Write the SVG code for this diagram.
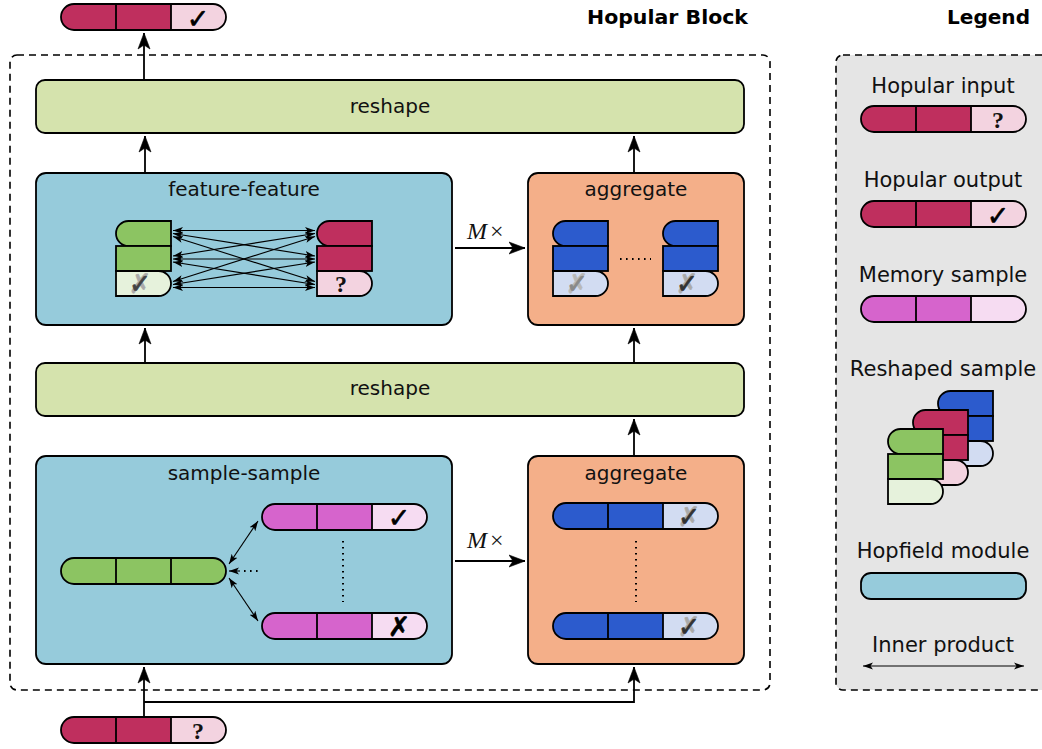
<svg xmlns="http://www.w3.org/2000/svg" width="1042" height="749" viewBox="0 0 1042 749">
<style>
.ol{fill:none;stroke:#000;stroke-width:1.8}
.ln{fill:none;stroke:#000;stroke-width:1.8}
.c{stroke:#000;stroke-width:1.8}
.red{fill:#bf2f5e}.pink{fill:#f3d3e0}
.mag{fill:#d664cc}.lmag{fill:#f6dcf2}
.grn{fill:#8cc462}.lgrn{fill:#e6f2dc}
.blu{fill:#2c5bcd}.lblu{fill:#d2dcf2}
.hop{fill:#96cbdb;stroke:#000;stroke-width:1.8}
.agg{fill:#f4af89;stroke:#000;stroke-width:1.8}
.rsh{fill:#d5e3ad;stroke:#000;stroke-width:1.8}
.dash{stroke:#000;stroke-width:1.6;stroke-dasharray:7 5}
.t{font-family:"DejaVu Sans",sans-serif;font-size:20px;fill:#111;text-anchor:middle}
.lt{font-family:"DejaVu Sans",sans-serif;font-size:21px;fill:#111;text-anchor:middle}
.h{font-family:"DejaVu Sans",sans-serif;font-size:19px;font-weight:bold;fill:#000}
.q{font-family:"Liberation Serif",serif;font-size:24px;font-weight:bold;fill:#111;text-anchor:middle}
.ck{font-family:"DejaVu Sans",sans-serif;font-size:27px;fill:#000;text-anchor:middle;stroke:#000;stroke-width:0.6}
.m{font-family:"Liberation Serif",serif;font-size:24px;fill:#111}
.arr{fill:none;stroke:#000;stroke-width:1.8}
.sa{fill:none;stroke:#000;stroke-width:1.1}
.dot{fill:none;stroke:#000;stroke-width:2;stroke-dasharray:1.6 4.4}
.hd{fill:#000;stroke:#000;stroke-width:0.6;stroke-linejoin:miter}
</style>
<defs>
<marker id="ah" viewBox="0 -7 17 14" refX="16.5" refY="0" markerWidth="17" markerHeight="14" markerUnits="userSpaceOnUse" orient="auto-start-reverse">
<path class="hd" d="M0.5,-6 L16.5,0 L0.5,6 L4.5,0 Z"/>
</marker>
<marker id="sh" viewBox="0 -4 10 8" refX="10" refY="0" markerWidth="10" markerHeight="8" markerUnits="userSpaceOnUse" orient="auto-start-reverse">
<path d="M0,-3.5 L10,0 L0,3.5 L2.5,0 Z" fill="#000"/>
</marker>
</defs>

<!-- titles -->
<text class="h" x="587" y="24" textLength="161" lengthAdjust="spacingAndGlyphs">Hopular Block</text>
<text class="h" x="947" y="24" textLength="83" lengthAdjust="spacingAndGlyphs">Legend</text>

<!-- outer frames -->
<rect id="hopular-block" class="dash" x="10" y="55" width="760" height="635" rx="7" fill="none"/>
<rect id="legend-frame" class="dash" x="836" y="55" width="240" height="635" rx="7" fill="#e5e5e5"/>

<!-- output bar -->
<g id="output" transform="translate(61,4)">
<path class="red" d="M13,0H55V26H13A13,13 0 0 1 13,0Z"/>
<rect class="red" x="55" y="0" width="55" height="26"/>
<path class="pink" d="M110,0H152A13,13 0 0 1 152,26H110Z"/>
<rect class="ol" width="165" height="26" rx="13"/>
<path class="ln" d="M55,0V26M110,0V26"/>
<text class="ck" x="137" y="24">✓</text>
</g>

<!-- top reshape -->
<g id="reshape-top">
<rect class="rsh" x="36" y="80" width="708" height="53" rx="9"/>
<text class="t" x="390" y="113">reshape</text>
</g>

<!-- feature-feature -->
<g id="feature-feature">
<rect class="hop" x="36" y="173" width="416" height="152" rx="10"/>
<text class="t" x="244" y="196">feature-feature</text>
<g transform="translate(116,221)">
<path class="grn c" d="M12.5,0H55V25H12.5A12.5,12.5 0 0 1 12.5,0Z"/>
<rect class="grn c" x="0" y="25" width="55" height="25"/>
<path class="lgrn c" d="M0,50H42.5A12.5,12.5 0 0 1 42.5,75H0Z"/>
<text class="ck" x="24" y="72" style="fill:#aaa;stroke:#aaa">✗</text>
<text class="ck" x="24" y="72" style="fill:#444;stroke:#444">✓</text>
</g>
<g transform="translate(317,221)">
<path class="red c" d="M12.5,0H55V25H12.5A12.5,12.5 0 0 1 12.5,0Z"/>
<rect class="red c" x="0" y="25" width="55" height="25"/>
<path class="pink c" d="M0,50H42.5A12.5,12.5 0 0 1 42.5,75H0Z"/>
<text class="q" x="24" y="71">?</text>
</g>
<g>
<path class="sa" d="M173,230.5L315,230.5" marker-start="url(#sh)" marker-end="url(#sh)"/>
<path class="sa" d="M173,233.5L315,256" marker-start="url(#sh)" marker-end="url(#sh)"/>
<path class="sa" d="M173,236.5L315,281.5" marker-start="url(#sh)" marker-end="url(#sh)"/>
<path class="sa" d="M173,256L315,233.5" marker-start="url(#sh)" marker-end="url(#sh)"/>
<path class="sa" d="M173,259L315,259" marker-start="url(#sh)" marker-end="url(#sh)"/>
<path class="sa" d="M173,262L315,284.5" marker-start="url(#sh)" marker-end="url(#sh)"/>
<path class="sa" d="M173,281.5L315,236.5" marker-start="url(#sh)" marker-end="url(#sh)"/>
<path class="sa" d="M173,284.5L315,262" marker-start="url(#sh)" marker-end="url(#sh)"/>
<path class="sa" d="M173,287.5L315,287.5" marker-start="url(#sh)" marker-end="url(#sh)"/>
</g>
</g>

<!-- aggregate top -->
<g id="aggregate-top">
<rect class="agg" x="528" y="173" width="216" height="152" rx="10"/>
<text class="t" x="636" y="196">aggregate</text>
<g transform="translate(553,221)">
<path class="blu c" d="M12.5,0H55V25H12.5A12.5,12.5 0 0 1 12.5,0Z"/>
<rect class="blu c" x="0" y="25" width="55" height="25"/>
<path class="lblu c" d="M0,50H42.5A12.5,12.5 0 0 1 42.5,75H0Z"/>
<text class="ck" x="24" y="72" style="fill:#b8b8b8;stroke:#b8b8b8">✗</text>
<text class="ck" x="24" y="72" style="fill:#8a8a8a;stroke:#8a8a8a">✓</text>
</g>
<g transform="translate(663,221)">
<path class="blu c" d="M12.5,0H55V25H12.5A12.5,12.5 0 0 1 12.5,0Z"/>
<rect class="blu c" x="0" y="25" width="55" height="25"/>
<path class="lblu c" d="M0,50H42.5A12.5,12.5 0 0 1 42.5,75H0Z"/>
<text class="ck" x="24" y="72" style="fill:#aaa;stroke:#aaa">✗</text>
<text class="ck" x="24" y="72" style="fill:#333;stroke:#333">✓</text>
</g>
<path class="dot" d="M620,259H651"/>
</g>

<!-- middle reshape -->
<g id="reshape-mid">
<rect class="rsh" x="36" y="363" width="708" height="53" rx="9"/>
<text class="t" x="390" y="395">reshape</text>
</g>

<!-- sample-sample -->
<g id="sample-sample">
<rect class="hop" x="36" y="456" width="416" height="208" rx="10"/>
<text class="t" x="244" y="480">sample-sample</text>
<g transform="translate(61,558)">
<path class="grn" d="M13,0H55V26H13A13,13 0 0 1 13,0Z"/>
<rect class="grn" x="55" y="0" width="55" height="26"/>
<path class="grn" d="M110,0H152A13,13 0 0 1 152,26H110Z"/>
<rect class="ol" width="165" height="26" rx="13"/>
<path class="ln" d="M55,0V26M110,0V26"/>
</g>
<g transform="translate(262,504)">
<path class="mag" d="M13,0H55V26H13A13,13 0 0 1 13,0Z"/>
<rect class="mag" x="55" y="0" width="55" height="26"/>
<path class="lmag" d="M110,0H152A13,13 0 0 1 152,26H110Z"/>
<rect class="ol" width="165" height="26" rx="13"/>
<path class="ln" d="M55,0V26M110,0V26"/>
<text class="ck" x="137" y="23">✓</text>
</g>
<g transform="translate(262,613)">
<path class="mag" d="M13,0H55V26H13A13,13 0 0 1 13,0Z"/>
<rect class="mag" x="55" y="0" width="55" height="26"/>
<path class="lmag" d="M110,0H152A13,13 0 0 1 152,26H110Z"/>
<rect class="ol" width="165" height="26" rx="13"/>
<path class="ln" d="M55,0V26M110,0V26"/>
<text class="ck" x="137" y="23">✗</text>
</g>
<path class="sa" d="M229,564L258,521" marker-start="url(#sh)" marker-end="url(#sh)"/>
<path class="sa" d="M229,578L258,621" marker-start="url(#sh)" marker-end="url(#sh)"/>
<path class="sa" d="M229,571L240,571" marker-start="url(#sh)"/>
<path class="dot" d="M244,571H262"/>
<path class="dot" d="M343,541V602"/>
</g>

<!-- aggregate bottom -->
<g id="aggregate-bottom">
<rect class="agg" x="528" y="456" width="216" height="208" rx="10"/>
<text class="t" x="636" y="480">aggregate</text>
<g transform="translate(553,503)">
<path class="blu" d="M13,0H55V26H13A13,13 0 0 1 13,0Z"/>
<rect class="blu" x="55" y="0" width="55" height="26"/>
<path class="lblu" d="M110,0H152A13,13 0 0 1 152,26H110Z"/>
<rect class="ol" width="165" height="26" rx="13"/>
<path class="ln" d="M55,0V26M110,0V26"/>
<text class="ck" x="136" y="23" style="fill:#aaa;stroke:#aaa">✗</text>
<text class="ck" x="136" y="23" style="fill:#333;stroke:#333">✓</text>
</g>
<g transform="translate(553,613)">
<path class="blu" d="M13,0H55V26H13A13,13 0 0 1 13,0Z"/>
<rect class="blu" x="55" y="0" width="55" height="26"/>
<path class="lblu" d="M110,0H152A13,13 0 0 1 152,26H110Z"/>
<rect class="ol" width="165" height="26" rx="13"/>
<path class="ln" d="M55,0V26M110,0V26"/>
<text class="ck" x="136" y="23" style="fill:#aaa;stroke:#aaa">✗</text>
<text class="ck" x="136" y="23" style="fill:#333;stroke:#333">✓</text>
</g>
<path class="dot" d="M636,541V602"/>
</g>

<!-- input bar -->
<g id="input" transform="translate(61,717)">
<path class="red" d="M13,0H55V26H13A13,13 0 0 1 13,0Z"/>
<rect class="red" x="55" y="0" width="55" height="26"/>
<path class="pink" d="M110,0H152A13,13 0 0 1 152,26H110Z"/>
<rect class="ol" width="165" height="26" rx="13"/>
<path class="ln" d="M55,0V26M110,0V26"/>
<text class="q" x="137" y="22">?</text>
</g>

<!-- connectors -->
<g id="connectors">
<path class="arr" d="M144,80V33" marker-end="url(#ah)"/>
<path class="arr" d="M145,173V136" marker-end="url(#ah)"/>
<path class="arr" d="M634,173V136" marker-end="url(#ah)"/>
<path class="arr" d="M145,363V328" marker-end="url(#ah)"/>
<path class="arr" d="M634,363V328" marker-end="url(#ah)"/>
<path class="arr" d="M634,456V419" marker-end="url(#ah)"/>
<path class="arr" d="M455,248H525" marker-end="url(#ah)"/>
<path class="arr" d="M455,561H525" marker-end="url(#ah)"/>
<path class="arr" d="M144,718V667" marker-end="url(#ah)"/>
<path class="arr" d="M144,702H634V667" marker-end="url(#ah)"/>
<text class="m" x="467" y="239"><tspan font-style="italic">M</tspan><tspan dx="3">×</tspan></text>
<text class="m" x="467" y="548"><tspan font-style="italic">M</tspan><tspan dx="3">×</tspan></text>
</g>

<!-- legend -->
<g id="legend-input">
<text class="lt" x="943" y="93">Hopular input</text>
<g transform="translate(861,106)">
<path class="red" d="M13,0H55V26H13A13,13 0 0 1 13,0Z"/>
<rect class="red" x="55" y="0" width="55" height="26"/>
<path class="pink" d="M110,0H152A13,13 0 0 1 152,26H110Z"/>
<rect class="ol" width="165" height="26" rx="13"/>
<path class="ln" d="M55,0V26M110,0V26"/>
<text class="q" x="137" y="22">?</text>
</g>
</g>
<g id="legend-output">
<text class="lt" x="943" y="187">Hopular output</text>
<g transform="translate(861,201)">
<path class="red" d="M13,0H55V26H13A13,13 0 0 1 13,0Z"/>
<rect class="red" x="55" y="0" width="55" height="26"/>
<path class="pink" d="M110,0H152A13,13 0 0 1 152,26H110Z"/>
<rect class="ol" width="165" height="26" rx="13"/>
<path class="ln" d="M55,0V26M110,0V26"/>
<text class="ck" x="137" y="24">✓</text>
</g>
</g>
<g id="legend-memory">
<text class="lt" x="943" y="282">Memory sample</text>
<g transform="translate(861,296)">
<path class="mag" d="M13,0H55V26H13A13,13 0 0 1 13,0Z"/>
<rect class="mag" x="55" y="0" width="55" height="26"/>
<path class="lmag" d="M110,0H152A13,13 0 0 1 152,26H110Z"/>
<rect class="ol" width="165" height="26" rx="13"/>
<path class="ln" d="M55,0V26M110,0V26"/>
</g>
</g>
<g id="legend-reshaped">
<text class="lt" x="943" y="376">Reshaped sample</text>
<g transform="translate(938,391)">
<path class="blu c" d="M12.5,0H55V25H12.5A12.5,12.5 0 0 1 12.5,0Z"/>
<rect class="blu c" x="0" y="25" width="55" height="25"/>
<path class="lblu c" d="M0,50H42.5A12.5,12.5 0 0 1 42.5,75H0Z"/>
</g>
<g transform="translate(913,410)">
<path class="red c" d="M12.5,0H55V25H12.5A12.5,12.5 0 0 1 12.5,0Z"/>
<rect class="red c" x="0" y="25" width="55" height="25"/>
<path class="pink c" d="M0,50H42.5A12.5,12.5 0 0 1 42.5,75H0Z"/>
</g>
<g transform="translate(888,429)">
<path class="grn c" d="M12.5,0H55V25H12.5A12.5,12.5 0 0 1 12.5,0Z"/>
<rect class="grn c" x="0" y="25" width="55" height="25"/>
<path class="lgrn c" d="M0,50H42.5A12.5,12.5 0 0 1 42.5,75H0Z"/>
</g>
</g>
<g id="legend-hopfield">
<text class="lt" x="943" y="558">Hopfield module</text>
<rect class="hop" x="861" y="573" width="165" height="26" rx="10"/>
</g>
<g id="legend-inner">
<text class="lt" x="943" y="652">Inner product</text>
<path class="sa" d="M863,666H1024" marker-start="url(#sh)" marker-end="url(#sh)"/>
</g>
</svg>
